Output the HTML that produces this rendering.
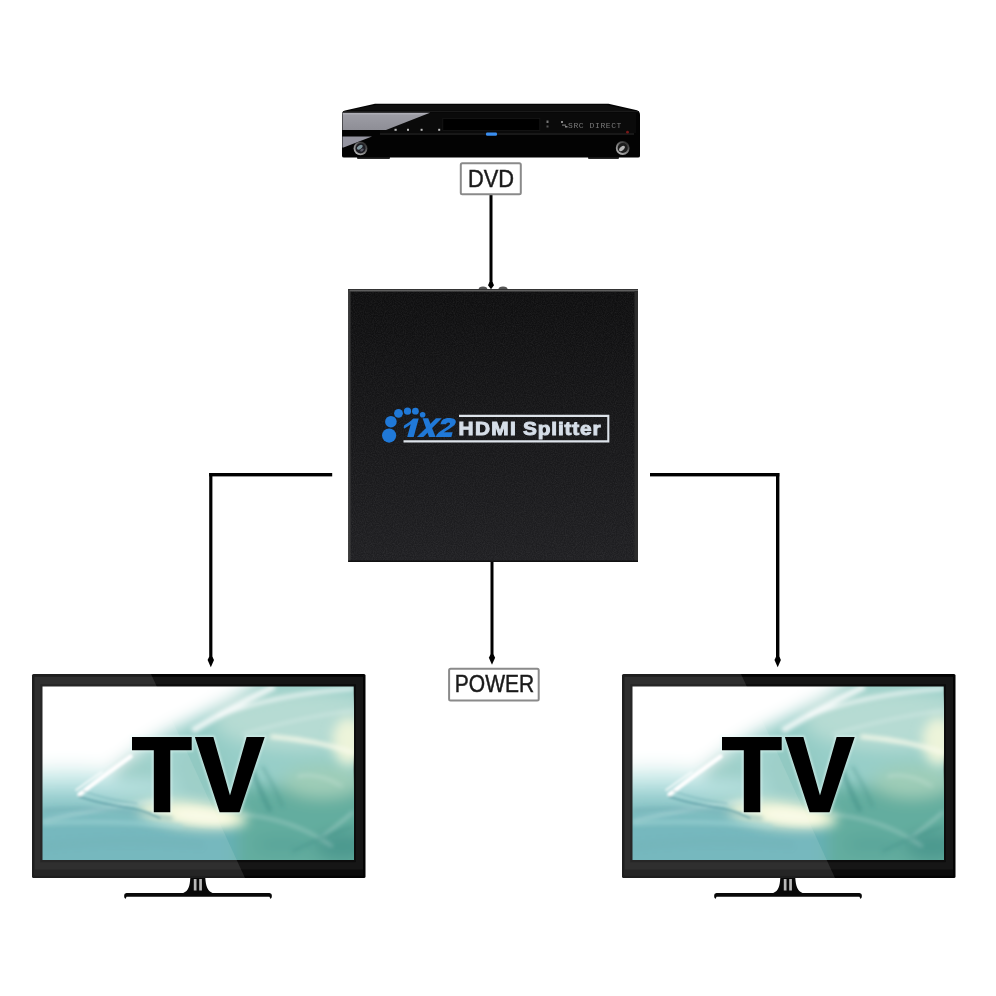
<!DOCTYPE html>
<html><head><meta charset="utf-8">
<style>
html,body{margin:0;padding:0;background:#fff;}
body{width:996px;height:996px;overflow:hidden;font-family:"Liberation Sans",sans-serif;}
svg{display:block;will-change:transform;}
</style></head>
<body>
<svg width="996" height="996" viewBox="0 0 996 996">
<defs>
  <linearGradient id="boxg" x1="0" y1="0" x2="0" y2="1">
    <stop offset="0" stop-color="#0e0e0f"/>
    <stop offset="1" stop-color="#1f1f22"/>
  </linearGradient>
  <linearGradient id="scrBase" x1="0" y1="0" x2="0.55" y2="1">
    <stop offset="0" stop-color="#ffffff"/>
    <stop offset="0.35" stop-color="#f4fbfa"/>
    <stop offset="0.6" stop-color="#a9d8d6"/>
    <stop offset="1" stop-color="#5aa7ad"/>
  </linearGradient>
  <filter id="blur8" x="-50%" y="-50%" width="200%" height="200%"><feGaussianBlur stdDeviation="8"/></filter>
  <filter id="blur6" x="-50%" y="-50%" width="200%" height="200%"><feGaussianBlur stdDeviation="6"/></filter>
  <filter id="blur1" x="-20%" y="-20%" width="140%" height="140%"><feGaussianBlur stdDeviation="0.8"/></filter>
  <filter id="noise" x="0" y="0" width="100%" height="100%"><feTurbulence type="fractalNoise" baseFrequency="0.9" numOctaves="2" seed="3"/><feColorMatrix type="matrix" values="0 0 0 0 1  0 0 0 0 1  0 0 0 0 1  1.6 0 0 0 -0.5"/></filter>
  <filter id="blur4" x="-50%" y="-50%" width="200%" height="200%"><feGaussianBlur stdDeviation="4"/></filter>
  <filter id="blur2" x="-50%" y="-50%" width="200%" height="200%"><feGaussianBlur stdDeviation="2"/></filter>
  <clipPath id="scrClip"><rect x="10.5" y="12.5" width="311.2" height="173.5"/></clipPath>

  <g id="tv">
    <!-- bezel -->
    <rect x="0" y="0" width="333.5" height="204" rx="1.5" fill="#030303"/>
    <rect x="2.5" y="2.8" width="328.5" height="198.5" fill="#161616"/>
    <rect x="8.3" y="10.2" width="315.6" height="178" fill="#0c0c0c"/>
    <rect x="2.5" y="195.5" width="328.5" height="6" fill="#0b0b0b"/>
    <!-- screen -->
    <g transform="translate(10.5 12.5)">
    <svg x="0" y="0" width="311.2" height="173.5" viewBox="0 0 311.2 173.5" overflow="hidden">
      <rect x="0" y="0" width="311.2" height="173.5" fill="#97cec8"/>
      <g filter="url(#blur8)">
        <rect x="-20" y="122" width="360" height="80" fill="#66b0b6"/>
        <rect x="195" y="100" width="140" height="100" fill="#64ad9f"/>
        <ellipse cx="262" cy="34" rx="90" ry="30" fill="#b6dbd3"/>
        <polygon points="-20,-20 235,-20 200,6 160,28 125,45 100,60 88,70 62,88 42,100 0,88 -20,88" fill="#ffffff"/>
        <ellipse cx="25" cy="90" rx="60" ry="10" fill="#d6f0ee"/>
        <ellipse cx="95" cy="92" rx="25" ry="16" fill="#8fc8c0"/>
        <ellipse cx="40" cy="100" rx="95" ry="8" fill="#b4e0e0"/>
        <ellipse cx="20" cy="112" rx="60" ry="7" fill="#84c4c6"/>
        
        <ellipse cx="280" cy="95" rx="40" ry="16" fill="#9fcdb8"/>
        <ellipse cx="160" cy="85" rx="25" ry="30" fill="#92c9c2"/>
        <ellipse cx="300" cy="160" rx="28" ry="14" fill="#4b988e"/>
        <ellipse cx="240" cy="158" rx="30" ry="8" fill="#58a49a"/>
      </g>
      <ellipse cx="150" cy="128" rx="55" ry="13" fill="#f2f6d6" filter="url(#blur6)" transform="rotate(6 150 128)"/>
      <ellipse cx="160" cy="130" rx="30" ry="6" fill="#fafbe6" filter="url(#blur4)" transform="rotate(6 160 130)"/>
      <ellipse cx="306" cy="55" rx="16" ry="24" fill="#edf4da" filter="url(#blur6)"/>
      <g filter="url(#blur2)" fill="none" stroke="#ffffff" stroke-opacity="0.8">
        <path d="M150,44 Q190,20 232,0" stroke-width="6"/>
        <path d="M175,30 Q230,8 311,2" stroke-width="3"/>
        <path d="M200,48 Q260,30 311,24" stroke-width="1.5" stroke-opacity="0.5"/>
        <path d="M228,50 Q275,54 311,66" stroke-width="4" stroke="#f8faea" stroke-opacity="0.95"/>
        <path d="M0,135 Q60,120 130,112" stroke-width="2.5" stroke-opacity="0.35"/>
        
        <path d="M255,90 Q275,85 300,100" stroke-width="2" stroke-opacity="0.3"/>
        <path d="M200,128 Q250,132 290,160" stroke-width="2.5" stroke-opacity="0.3"/>
        <path d="M280,150 Q300,135 311,125" stroke-width="2" stroke-opacity="0.4"/>
      </g>
      <g filter="url(#blur2)" fill="none">
        <path d="M0,124 Q60,118 130,132" stroke="#5a9fa8" stroke-width="3" stroke-opacity="0.6"/>
        <path d="M0,137 Q60,133 140,140" stroke="#9ad2d2" stroke-width="4" stroke-opacity="0.6"/>
        <path d="M0,160 Q80,150 160,158" stroke="#5ea8b0" stroke-width="8" stroke-opacity="0.4"/>
      </g>
      <g filter="url(#blur1)" fill="none">
        <path d="M37,108 Q60,90 88,70" stroke="#ffffff" stroke-width="4.5" stroke-linecap="round"/>
        <path d="M33,104 Q45,95 60,85" stroke="#ffffff" stroke-width="2" stroke-opacity="0.8"/>
        <path d="M36,110 Q60,118 90,122 Q105,125 118,132" stroke="#3f8a94" stroke-width="1.4" stroke-opacity="0.8"/>
        <path d="M40,104 Q62,113 95,117" stroke="#4e97a0" stroke-width="1" stroke-opacity="0.6"/>
      </g>
      <g filter="url(#blur2)" fill="none" stroke="#3a8a84" stroke-opacity="0.55">
        <path d="M205,70 Q215,100 228,125" stroke-width="4"/>
        <path d="M220,80 Q232,100 240,120" stroke-width="2"/>
        <path d="M250,165 Q280,150 311,140" stroke-width="2"/>
      </g>
    </svg>
    </g>
    <!-- glossy reflection -->
    <polygon points="0,0 119,0 213,204 0,204" fill="#ffffff" fill-opacity="0.11"/>
    <!-- TV text -->
    <path id="tvtxt" d="M100,62.9 L159.7,62.9 L159.7,76.3 L138.3,76.3 L138.3,138.3 L121.8,138.3 L121.8,76.3 L100,76.3 Z M162.9,62.9 L181.4,62.9 L198,121.4 L214.6,62.9 L232.7,62.9 L207.5,138.3 L187.6,138.3 Z" fill="none" stroke="#e8fbf8" stroke-width="3" stroke-opacity="0.55" filter="url(#blur1)"/>
    <path d="M100,62.9 L159.7,62.9 L159.7,76.3 L138.3,76.3 L138.3,138.3 L121.8,138.3 L121.8,76.3 L100,76.3 Z M162.9,62.9 L181.4,62.9 L198,121.4 L214.6,62.9 L232.7,62.9 L207.5,138.3 L187.6,138.3 Z" fill="#000"/>
    <!-- stand -->
    <path d="M158.3,204 L173.3,204 C173.8,212 175.5,217 180.5,219 L237.5,219 Q239.8,219.3 239.8,221 L239.8,223.2 L238.6,225 L237.4,222.8 L94.6,222.8 L93.4,225 L92.2,223.2 L92.2,221 Q92.2,219.3 94.5,219 L151.2,219 C156.5,217 157.8,212 158.3,204 Z" fill="#080808"/>
    <rect x="161.8" y="205" width="2.7" height="11.5" fill="#b8b8b8"/>
    <rect x="167.2" y="205" width="2.7" height="11.5" fill="#b8b8b8"/>
  </g>
</defs>

<!-- ===== connection lines ===== -->
<g fill="#000" stroke="none">
  <!-- DVD to splitter -->
  <rect x="489.5" y="195" width="3" height="89"/>
  <path d="M489.5,282.0 L488.0,285.3 L491.0,289.2 L494.0,285.3 L492.5,282.0 Z"/>
  <!-- splitter to power -->
  <rect x="490.5" y="562" width="3" height="94"/>
  <path d="M490.5,654.5 L488.9,657.8 L492.0,664.8 L495.1,657.8 L493.5,654.5 Z"/>
  <!-- left -->
  <rect x="209.2" y="473" width="123" height="3.4"/>
  <rect x="209.2" y="473" width="3.2" height="186"/>
  <path d="M209.2,656.7 L207.6,660.0 L210.8,667.2 L214.0,660.0 L212.4,656.7 Z"/>
  <!-- right -->
  <rect x="650" y="473" width="129.3" height="3.4"/>
  <rect x="776" y="473" width="3.4" height="186"/>
  <path d="M776.0,656.7 L774.5,660.0 L777.7,667.2 L780.9,660.0 L779.4,656.7 Z"/>
</g>

<!-- ===== labels ===== -->
<rect x="460.8" y="163.2" width="60" height="31" rx="1.5" fill="#fff" stroke="#8a8a8a" stroke-width="2"/>
<text x="0" y="0" transform="translate(491 187.1) scale(0.93 1)" text-anchor="middle" font-family="Liberation Sans" font-size="23.5" fill="#1a1a1a" stroke="#1a1a1a" stroke-width="0.45">DVD</text>
<rect x="449.1" y="668.8" width="89.6" height="31.6" rx="1.5" fill="#fff" stroke="#8a8a8a" stroke-width="2"/>
<text x="0" y="0" transform="translate(494.5 692.1) scale(0.876 1)" text-anchor="middle" font-family="Liberation Sans" font-size="24" fill="#1a1a1a" stroke="#1a1a1a" stroke-width="0.45">POWER</text>

<!-- ===== DVD player ===== -->
<g>
  <rect x="357" y="156.5" width="33" height="2.4" rx="1" fill="#2a2a2a"/>
  <rect x="588" y="156.5" width="31" height="2.4" rx="1" fill="#2a2a2a"/>
  <path d="M342,114 Q342,111 345,110.5 L375,103.7 L608.5,103.7 L637,110.3 Q640,111.5 640,115 L640,156 Q640,157.5 638,157.5 L344,157.5 Q342,157.5 342,156 Z" fill="#030303"/>
  <!-- top slab -->
  <path d="M348,110.5 L376,105 L607,105 L634,111 Z" fill="#0f0f0f"/>
  <rect x="343" y="111" width="296" height="1.2" fill="#1a1a1a"/>
  <!-- front upper panel slightly lighter -->
  <rect x="380" y="113" width="256" height="20" fill="#0a0a0a"/>
  <rect x="442.8" y="118.6" width="97" height="11.8" fill="#000" stroke="#161616" stroke-width="0.8"/>
  <!-- gray panel upper -->
  <linearGradient id="gp" x1="0" y1="0" x2="0" y2="1">
    <stop offset="0" stop-color="#b4b4bc"/><stop offset="0.15" stop-color="#9c9ca4"/><stop offset="1" stop-color="#8e8e96"/>
  </linearGradient>
  <polygon points="342.5,112.8 430,112.8 386,130 342.5,130" fill="url(#gp)"/>
  <!-- gray panel lower -->
  <polygon points="342.5,136.4 372,136.4 343.5,147.5 342.5,147.5" fill="#9494a0"/>
  <!-- tray line -->
  <rect x="380" y="133.2" width="254" height="1.6" fill="#1e1e1e"/>
  <!-- buttons -->
  <g fill="#bdbdbd">
    <rect x="394.5" y="128.8" width="2.2" height="2"/>
    <rect x="407" y="128.8" width="2" height="2"/>
    <rect x="420.6" y="128.8" width="2" height="2"/>
    <rect x="438.2" y="128.8" width="2" height="2"/>
  </g>
  <!-- blue led -->
  <rect x="486" y="132.6" width="11" height="3.2" rx="1.2" fill="#3a8ef0"/>
  <!-- SRC DIRECT -->
  <text x="568" y="127.8" font-family="Liberation Mono" font-size="8" fill="#7a7a7a" letter-spacing="0.6">SRC DIRECT</text>
  <rect x="561" y="121" width="2" height="2" fill="#888"/>
  <rect x="562" y="124.5" width="4" height="1.2" fill="#777"/>
  <rect x="565" y="126" width="2.5" height="1.5" fill="#888"/>
  <rect x="546.5" y="120.5" width="2" height="2.5" fill="#777"/>
  <rect x="546.5" y="125.5" width="2" height="2" fill="#555"/>
  <circle cx="627.5" cy="132.2" r="1.4" fill="#7a1818"/>
  <!-- knobs -->
  <linearGradient id="kr" x1="0.2" y1="0.9" x2="0.8" y2="0.1">
    <stop offset="0" stop-color="#b0b0b0"/><stop offset="0.5" stop-color="#7a7a7a"/><stop offset="1" stop-color="#2a2a2a"/>
  </linearGradient>
  <g>
    <circle cx="360.5" cy="148.4" r="6.9" fill="url(#kr)"/>
    <circle cx="360.5" cy="148.4" r="5.1" fill="#1c1c22"/>
    <ellipse cx="359.8" cy="147.2" rx="3.2" ry="1.8" transform="rotate(-35 359.8 147.2)" fill="#7f959c"/>
    <ellipse cx="362" cy="150" rx="2" ry="1.2" transform="rotate(-35 362 150)" fill="#5a5a66"/>
    <circle cx="622.7" cy="148" r="6.9" fill="url(#kr)"/>
    <circle cx="622.7" cy="148" r="5.1" fill="#1c1c1c"/>
    <ellipse cx="622" cy="148.5" rx="3.4" ry="1.8" transform="rotate(-40 622 148.5)" fill="#b8b8b8"/>
  </g>
</g>


<!-- ===== Splitter ===== -->
<g>
  <ellipse cx="483" cy="289" rx="4.3" ry="2.5" fill="#555"/>
  <ellipse cx="503" cy="289" rx="4.5" ry="2.5" fill="#555"/>
  <rect x="348.4" y="289" width="289.6" height="273" fill="url(#boxg)"/>
  <rect x="348.4" y="289" width="289.6" height="273" fill="#fff" filter="url(#noise)" opacity="0.07"/>
  <rect x="348.4" y="289" width="289.6" height="0.7" fill="#2a2a2a"/>
  <rect x="348.4" y="289.7" width="289.6" height="1.8" fill="#5e5e5e"/>
  <rect x="348.4" y="289" width="0.9" height="273" fill="#1c1c1c"/>
  <rect x="349.3" y="291" width="1.1" height="271" fill="#464646"/>
  <rect x="634.5" y="291" width="3.5" height="271" fill="#2c2c2c"/>
  <rect x="348.4" y="560.5" width="289.6" height="1.5" fill="#111"/>
  <!-- logo dots -->
  <g fill="#2079d8">
    <circle cx="389.1" cy="435.6" r="7.1"/>
    <circle cx="390.9" cy="421.7" r="5.8"/>
    <circle cx="398.5" cy="413.3" r="4.4"/>
    <circle cx="407.5" cy="411.2" r="3.6"/>
    <circle cx="415.4" cy="411.2" r="3.4"/>
    <circle cx="422.6" cy="414.7" r="2.8"/>
  </g>
  <g fill="#2079d8">
    <path d="M413.2,418.6 L418.7,418.6 L413.7,437.1 L407.2,437.1 L410.7,424.3 C409,425.6 407,427 405.3,428.1 Q403.4,429 403.7,427.1 L404.3,425.3 C407.5,423.5 410.8,421.3 413.2,418.6 Z"/>
    <polygon points="422.6,418.2 428.2,418.2 435.6,436.9 429.0,436.9"/>
    <polygon points="436.0,418.2 441.8,418.2 423.4,436.9 416.9,436.9"/>
    <path d="M435.6,437 L451.4,437 L452.6,432.2 L443.9,432.2 C447.2,429.8 452,427.4 454.5,424.9 C456.6,422.7 456.1,419.8 453.6,418.8 C451.5,417.9 448,417.8 445.4,418.4 C442.4,419.2 441,421.3 440.5,424.3 L446.1,424.3 C446.4,423.1 447.3,422.4 448.4,422.4 C449.8,422.4 450.4,423.2 449.9,424.3 C449.3,425.6 446.5,427.4 443,429.6 C440,431.4 437,433.4 435.6,437 Z"/>
  </g>
  <!-- box -->
  <path d="M459,415.9 L608.3,415.9 L608.3,441.4 L403.5,441.4" fill="none" stroke="#dde3ea" stroke-width="2.1"/>
  <g fill="#d6dee8" stroke="#d6dee8" stroke-width="0.9" font-family="Liberation Sans" font-weight="bold" font-size="17.8">
    <text x="0" y="0" transform="translate(458.6 434.6) scale(1.17 1)" letter-spacing="1.15">HDMI</text>
    <text x="0" y="0" transform="translate(523.0 434.6) scale(1.17 1)" letter-spacing="0.72">Splitter</text>
  </g>
</g>

<!-- ===== TVs ===== -->
<use href="#tv" x="32" y="674"/>
<use href="#tv" x="622" y="674"/>
</svg>
</body></html>
